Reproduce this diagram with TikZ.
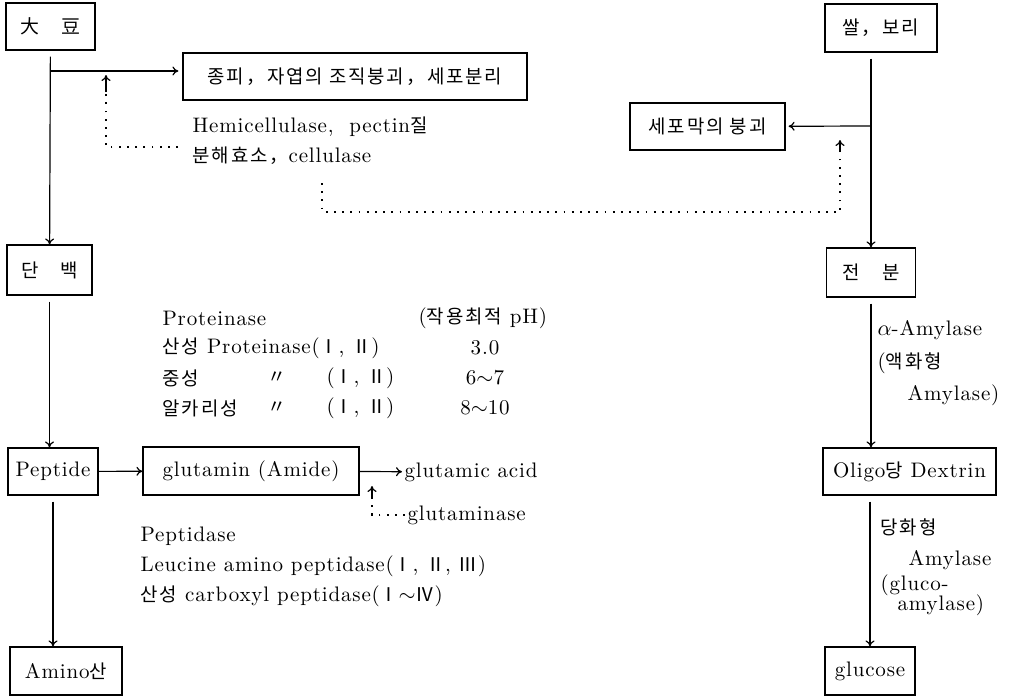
\documentclass[tikz,border=0pt]{standalone}
\usepackage{fontspec}
\setmainfont{lmroman10-regular.otf}[LetterSpace=4]
\newfontfamily\kr{Noto Sans CJK KR}[Scale=0.9, LetterSpace=10]
\newcommand\K[1]{{\kr #1}}
\newcommand\diagfont{\fontsize{10.5}{15}\selectfont}
\usetikzlibrary{arrows.meta}

\begin{document}
\begin{tikzpicture}[x=0.5pt, y=-0.5pt, line width=0.6pt,
    >={To[length=3pt, width=4.5pt]},
    font=\diagfont,
    box/.style={draw, inner sep=0pt},
    lbl/.style={anchor=west, inner sep=1pt},
    dots/.style={line width=1pt, dash pattern=on 0.9pt off 3.2pt}]

    \useasboundingbox (0,0) rectangle (1017,697);

    % Boxes
    \node[box, minimum width=44.5pt, minimum height=23.5pt] (soy) at (50.5,26.5) {\K{大\hspace{11pt}豆}};
    \node[box, minimum width=172pt, minimum height=23.5pt] (coat) at (355,76.5) {\K{종피，자엽의 조직붕괴，세포분리}};
    \node[box, minimum width=56pt, minimum height=24pt] (grain) at (881,28) {\K{쌀，보리}};
    \node[box, minimum width=77.5pt, minimum height=23.5pt] (wall) at (707.5,126.5) {\K{세포막의 붕괴}};
    \node[box, minimum width=42.5pt, minimum height=25pt] (protein) at (49.5,270) {\K{단\hspace{11pt}백}};
    \node[box, minimum width=44.5pt, minimum height=24.5pt] (starch) at (871,272.5) {\K{전\hspace{11pt}분}};
    \node[box, minimum width=45pt, minimum height=23.5pt] (peptide) at (53,471.5) {Peptide};
    \node[box, minimum width=108pt, minimum height=24pt] (glutamin) at (251,471) {glutamin (Amide)};
    \node[box, minimum width=86.5pt, minimum height=23.5pt] (oligo) at (909.5,471.5) {Oligo\K{당} Dextrin};
    \node[box, minimum width=56pt, minimum height=24pt] (amino) at (66,671) {Amino\K{산}};
    \node[box, minimum width=45pt, minimum height=24pt] (glucose) at (870,671) {glucose};

    % Soy bean branch
    \coordinate (split) at (50,71);
    \draw[->, shorten <=3pt] (soy) -- (protein);
    \draw[->, shorten >=2pt] (split) -- (split -| coat.west);
    \node[lbl, align=left] (enzyme) at (190,141)
    {Hemicellulase,\ \ pectin\K{질}\\\K{분해효소，}cellulase};
    \coordinate (upA) at (106,92);
    \draw[dots] ([xshift=-6pt, yshift=-3pt]enzyme.west) -| (upA);
    \draw[->] (upA) -- ([yshift=-2pt]upA |- split);

    % Rice, barley branch
    \coordinate (splitB) at (871,126);
    \draw[->, shorten <=3pt] (starch |- grain.south) -- (starch);
    \draw[->, shorten >=1.5pt] (splitB) -- (wall);
    \coordinate (dropB) at (322,183);
    \coordinate (upB) at (840,150);
    \draw[dots] (dropB) -- ++(0,29) -| (upB);
    \draw[->] (upB) -- ++(0,-10);

    % Proteinase
    \draw[->, shorten <=3pt] (protein) -- (protein |- peptide.north);
    \node[lbl] (prot) at (160,318) {Proteinase};
    \node[lbl] (opt) at (416,318) {(\K{작용최적} pH)};
    \node[lbl] (acidic) at (160,348) {\K{산성} Proteinase(\K{Ⅰ}, \K{Ⅱ})};
    \node (ph348) at (485,348) {3.0};
    \foreach \y/\kind/\ph in {
        378/중성/6$\sim$7,
        408/알카리성/8$\sim$10
    }{
        \node[lbl] (kind\y) at (160,\y) {\K{\kind}};
        \node (ditto\y) at (277,\y) {\K{〃}};
        \node[anchor=east, inner sep=1pt] (type\y) at (397,\y) {(\K{Ⅰ}, \K{Ⅱ})};
        \node (ph\y) at (485,\y) {\ph};
    }

    % Peptide, glutamin
    \draw[->] (peptide) -- (glutamin);
    \node[lbl] (acid) at (402,472) {glutamic acid};
    \draw[->] (glutamin) -- (acid);
    \node[lbl] (gase) at (405,515) {glutaminase};
    \coordinate (upC) at (372,499);
    \draw[dots] (gase.west) -| (upC);
    \draw[->] (upC) -- ++(0,-13);

    % Peptidase
    \draw[->, shorten <=3pt] (peptide) -- (peptide |- amino.north);
    \node[lbl, align=left] (pept) at (138,567)
    {Peptidase\\Leucine amino peptidase(\K{Ⅰ}, \K{Ⅱ}, \K{Ⅲ})\\\K{산성} carboxyl peptidase(\K{Ⅰ}$\sim$\K{Ⅳ})};

    % Starch
    \draw[->, shorten <=3pt] (starch) -- (starch |- oligo.north);
    \node[lbl] (alpha) at (875,330) {$\alpha$-Amylase};
    \node[lbl] (liq) at (875,363) {(\K{액화형}};
    \node[lbl] (liqB) at (905,395) {Amylase)};
    \draw[->, shorten <=3pt] (glucose |- oligo.south) -- (glucose);
    \node[lbl] (sacc) at (878,527) {\K{당화형}};
    \node[lbl] (saccB) at (906,560) {Amylase};
    \node[lbl] (gluco) at (878,585) {(gluco-};
    \node[lbl] (glucoB) at (895,605) {amylase)};
\end{tikzpicture}
\end{document}
